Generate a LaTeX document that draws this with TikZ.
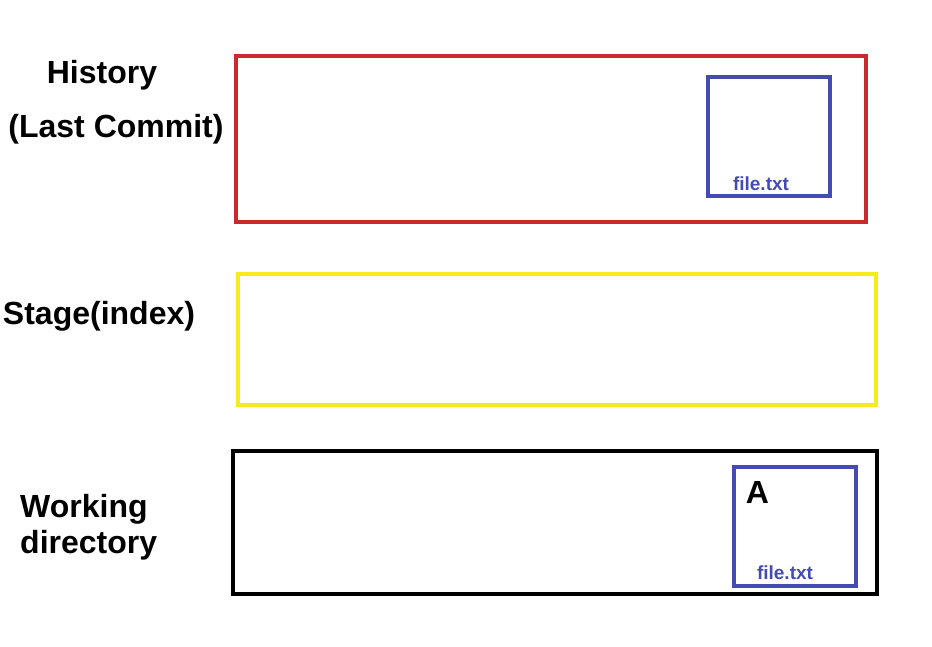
\documentclass[tikz,border=0pt]{standalone}
\usepackage{fontspec}
\setmainfont{Liberation Sans}
\definecolor{histred}{RGB}{204,40,48}
\definecolor{stageyellow}{RGB}{245,236,32}
\definecolor{fileblue}{RGB}{68,76,180}
\tikzset{
  area/.style={draw, line width=4pt, inner sep=0pt, outer sep=0pt},
  filebox/.style={draw=fileblue, line width=4pt, inner sep=0pt, outer sep=0pt,
    minimum width=122pt, minimum height=119pt},
  title/.style={inner sep=0pt, font=\bfseries\fontsize{32}{36}\selectfont},
  fname/.style={inner sep=0pt, text=fileblue, font=\bfseries\fontsize{19}{22}\selectfont}
}
\begin{document}
\begin{tikzpicture}[x=1pt,y=-1pt]
\useasboundingbox (0,0) rectangle (932,646);
% the three areas
\node[area, draw=histred, minimum width=630pt, minimum height=166pt] (history) at (551,139) {};
\node[area, draw=stageyellow, minimum width=638pt, minimum height=131pt] (stage) at (557,339.5) {};
\node[area, draw=black, line width=4.5pt, minimum width=644pt, minimum height=143pt] (work) at (555,522.5) {};
% files
\node[filebox] (histfile) at (769,136.5) {};
\node[filebox] (workfile) at (794.5,526.5) {};
\node[fname] (histname) at (761,184) {file.txt};
\node[fname] (workname) at (785,573) {file.txt};
\node[title] (content) at (757.5,492.5) {A};
% labels
\node[title, anchor=base] (histlabel) at (102,83) {History};
\node[title, anchor=base] (commitlabel) at (116,137) {(Last Commit)};
\node[title, anchor=base] (stagelabel) at (99,324) {Stage(index)};
\node[title, anchor=north west, align=left] (worklabel) at (20,494.5) {Working\\directory};
\end{tikzpicture}
\end{document}
